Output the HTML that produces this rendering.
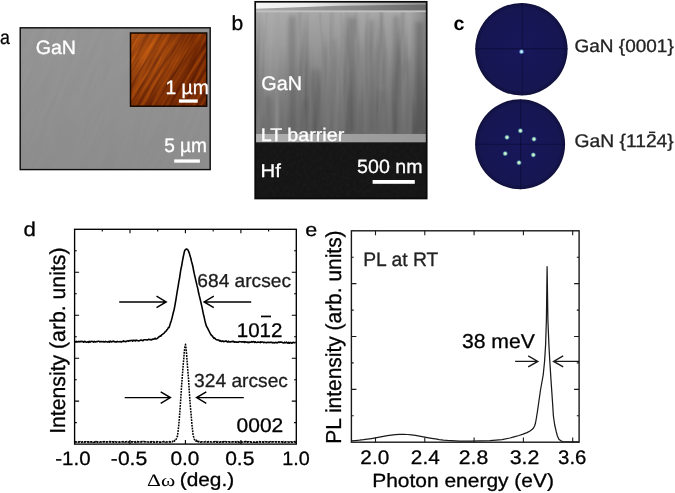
<!DOCTYPE html>
<html lang="en"><head><meta charset="utf-8"><title>Figure</title>
<style>
html,body{margin:0;padding:0;background:#fff;}
body{width:675px;height:493px;overflow:hidden;}
svg{display:block;font-family:"Liberation Sans", Arial, sans-serif;text-rendering:geometricPrecision;}
text{paint-order:stroke;stroke-width:0.3px;stroke-linejoin:round;}
#fig{filter:blur(0.45px);}
</style></head>
<body>
<svg width="675" height="493" viewBox="0 0 675 493">
<rect width="675" height="493" fill="#fff"/>
<g id="fig">
<defs>
<filter id="nA" color-interpolation-filters="sRGB" x="0" y="0" width="100%" height="100%"><feTurbulence type="fractalNoise" baseFrequency="0.025 0.22" numOctaves="2" seed="3"/><feColorMatrix type="matrix" values="0 0 0 0 0.5  0 0 0 0 0.5  0 0 0 0 0.5  0.9 0 0 0 -0.38"/></filter>
<filter id="nAFM" color-interpolation-filters="sRGB" x="0" y="0" width="100%" height="100%"><feTurbulence type="fractalNoise" baseFrequency="0.02 0.33" numOctaves="3" seed="11"/><feColorMatrix type="matrix" values="0.62 0 0 0 0.27  0.36 0 0 0 0.045  0.04 0 0 0 0.0  0 0 0 0 1"/></filter>
<filter id="nTEMd" color-interpolation-filters="sRGB" x="0" y="0" width="100%" height="100%"><feTurbulence type="fractalNoise" baseFrequency="0.085 0.007" numOctaves="3" seed="5"/><feColorMatrix type="matrix" values="0 0 0 0 0.2  0 0 0 0 0.2  0 0 0 0 0.2  -2.6 0 0 0 1.22"/></filter>
<filter id="nTEMl" color-interpolation-filters="sRGB" x="0" y="0" width="100%" height="100%"><feTurbulence type="fractalNoise" baseFrequency="0.085 0.007" numOctaves="3" seed="5"/><feColorMatrix type="matrix" values="0 0 0 0 0.85  0 0 0 0 0.85  0 0 0 0 0.85  2.2 0 0 0 -1.2"/></filter>
<filter id="nHf" color-interpolation-filters="sRGB" x="0" y="0" width="100%" height="100%"><feTurbulence type="fractalNoise" baseFrequency="0.3" numOctaves="2" seed="9"/><feColorMatrix type="matrix" values="0 0 0 0 1  0 0 0 0 1  0 0 0 0 1  0.3 0 0 0 -0.11"/></filter>
<linearGradient id="gTEM" x1="0" y1="14" x2="0" y2="134" gradientUnits="userSpaceOnUse">
<stop offset="0" stop-color="#a6a6a6"/><stop offset="0.25" stop-color="#989898"/><stop offset="0.5" stop-color="#858585"/><stop offset="0.75" stop-color="#777777"/><stop offset="1" stop-color="#6e6e6e"/></linearGradient>
<linearGradient id="gStk" x1="0" y1="14" x2="0" y2="134" gradientUnits="userSpaceOnUse">
<stop offset="0" stop-color="#fff" stop-opacity="0.45"/><stop offset="0.5" stop-color="#fff" stop-opacity="0.8"/><stop offset="1" stop-color="#fff" stop-opacity="1"/></linearGradient>
<mask id="mStk"><rect x="250" y="0" width="185" height="140" fill="url(#gStk)"/></mask>
<linearGradient id="gTop" x1="255" y1="0" x2="427" y2="0" gradientUnits="userSpaceOnUse">
<stop offset="0" stop-color="#f6f6f6"/><stop offset="0.3" stop-color="#ececec"/><stop offset="0.6" stop-color="#c4c4c4"/><stop offset="1" stop-color="#8e8e8e"/></linearGradient>
<linearGradient id="gTop2" x1="255" y1="0" x2="427" y2="0" gradientUnits="userSpaceOnUse">
<stop offset="0" stop-color="#ababab"/><stop offset="0.5" stop-color="#8c8c8c"/><stop offset="1" stop-color="#686868"/></linearGradient>
<radialGradient id="gAFMl" cx="0.1" cy="0.25" r="0.75"><stop offset="0" stop-color="#ffa040" stop-opacity="0.18"/><stop offset="1" stop-color="#300800" stop-opacity="0.3"/></radialGradient>
<radialGradient id="gP"><stop offset="0" stop-color="#17175a"/><stop offset="0.9" stop-color="#161652"/><stop offset="1" stop-color="#10103c"/></radialGradient>
<radialGradient id="gDot"><stop offset="0" stop-color="#e8ffff"/><stop offset="0.45" stop-color="#8fd0f0"/><stop offset="1" stop-color="#3050b0" stop-opacity="0"/></radialGradient>
<radialGradient id="gDot2"><stop offset="0" stop-color="#f0ffd8"/><stop offset="0.45" stop-color="#9fe0c0"/><stop offset="1" stop-color="#3060b0" stop-opacity="0"/></radialGradient>
<linearGradient id="gA" x1="0" y1="0" x2="0" y2="1"><stop offset="0" stop-color="#969696"/><stop offset="1" stop-color="#8d8d8d"/></linearGradient>
<clipPath id="cA"><rect x="20.2" y="27.8" width="190" height="141.8"/></clipPath>
<linearGradient id="gBh" x1="255" y1="0" x2="427" y2="0" gradientUnits="userSpaceOnUse"><stop offset="0" stop-color="#fff" stop-opacity="0.09"/><stop offset="0.25" stop-color="#fff" stop-opacity="0"/><stop offset="0.9" stop-color="#000" stop-opacity="0"/><stop offset="1" stop-color="#000" stop-opacity="0.2"/></linearGradient>
<linearGradient id="gLT" x1="255" y1="0" x2="427" y2="0" gradientUnits="userSpaceOnUse"><stop offset="0" stop-color="#b2b2b2"/><stop offset="0.5" stop-color="#a0a0a0"/><stop offset="1" stop-color="#979797"/></linearGradient>
<clipPath id="cAFM"><rect x="131" y="33.5" width="75.5" height="72.5"/></clipPath>
</defs>
<rect x="20.2" y="27.8" width="190" height="141.8" fill="url(#gA)"/>
<g clip-path="url(#cA)"><g transform="rotate(-68 115 99)"><rect x="-20" y="-40" width="270" height="280" filter="url(#nA)" opacity="0.4"/></g></g>
<rect x="20.2" y="27.8" width="190" height="141.8" fill="none" stroke="#0c0c0c" stroke-width="1.4"/>
<rect x="130.5" y="33" width="76.2" height="73.2" fill="#8c3a06"/>
<g clip-path="url(#cAFM)"><g transform="rotate(-60 168 70)"><rect x="100" y="0" width="140" height="140" filter="url(#nAFM)"/></g><rect x="130.5" y="33" width="76.2" height="73.2" fill="url(#gAFMl)"/></g>
<rect x="130.5" y="33" width="76.2" height="73.2" fill="none" stroke="#140800" stroke-width="1.5"/>
<text x="35.72" y="53.90" font-size="19.35" fill="#fff" stroke="#fff" textLength="40.27" lengthAdjust="spacingAndGlyphs" >GaN</text>
<text x="165.45" y="93.60" font-size="19.49" fill="#fff" stroke="#fff" textLength="43.32" lengthAdjust="spacingAndGlyphs" >1 µm</text>
<rect x="178.9" y="99.4" width="18.8" height="3.3" fill="#fff"/>
<text x="164.14" y="152.10" font-size="19.49" fill="#fff" stroke="#fff" textLength="42.82" lengthAdjust="spacingAndGlyphs" >5 µm</text>
<rect x="174.2" y="159.4" width="25.7" height="3.3" fill="#fff"/>
<text x="0.05" y="44.00" font-size="19.72" fill="#000" stroke="#000" textLength="9.88" lengthAdjust="spacingAndGlyphs" >a</text>
<rect x="255.2" y="1.8" width="171.5" height="196.7" fill="url(#gTEM)"/>
<g mask="url(#mStk)"><rect x="255.2" y="12" width="171.5" height="124" filter="url(#nTEMd)" opacity="0.5"/><rect x="255.2" y="12" width="171.5" height="124" filter="url(#nTEMl)" opacity="0.3"/></g>
<g style="filter:blur(2px)"><rect x="288.5" y="16" width="7" height="116" fill="#2a2a2a" opacity="0.22"/><rect x="348.0" y="18" width="8" height="114" fill="#2a2a2a" opacity="0.2"/><rect x="369.5" y="20" width="5" height="112" fill="#2a2a2a" opacity="0.16"/><rect x="393.0" y="16" width="6" height="116" fill="#2a2a2a" opacity="0.2"/><rect x="415.0" y="22" width="8" height="110" fill="#2a2a2a" opacity="0.22"/><rect x="265.0" y="96" width="6" height="36" fill="#2a2a2a" opacity="0.2"/><rect x="312.5" y="70" width="7" height="62" fill="#2a2a2a" opacity="0.16"/><rect x="331.5" y="40" width="5" height="92" fill="#2a2a2a" opacity="0.12"/><rect x="303.0" y="100" width="4" height="32" fill="#2a2a2a" opacity="0.15"/><rect x="380.5" y="90" width="5" height="42" fill="#2a2a2a" opacity="0.14"/><rect x="406.0" y="60" width="4" height="72" fill="#2a2a2a" opacity="0.12"/></g>
<rect x="255.2" y="1.8" width="171.5" height="9" fill="url(#gTop2)"/>
<path d="M255.2 1.8H426.7V4.6L340 5.7L255.2 8.8Z" fill="url(#gTop)"/>
<rect x="255.2" y="10.4" width="171.5" height="1.9" fill="#c6c6c6" opacity="0.85"/>
<rect x="255.2" y="12" width="171.5" height="122" fill="url(#gBh)"/>
<rect x="255.2" y="134" width="171.5" height="8.4" fill="url(#gLT)"/>
<rect x="255.2" y="142.4" width="171.5" height="56.099999999999994" fill="#151515"/>
<rect x="255.2" y="142.4" width="171.5" height="56.099999999999994" filter="url(#nHf)" opacity="0.16"/>
<rect x="255.2" y="1.8" width="171.5" height="196.7" fill="none" stroke="#0a0a0a" stroke-width="1.7"/>
<text x="261.31" y="90.30" font-size="19.64" fill="#fff" stroke="#fff" textLength="40.59" lengthAdjust="spacingAndGlyphs" >GaN</text>
<text x="260.67" y="141.10" font-size="18.34" fill="#fff" stroke="#fff" textLength="83.62" lengthAdjust="spacingAndGlyphs" >LT barrier</text>
<text x="260.62" y="176.50" font-size="18.69" fill="#fff" stroke="#fff" textLength="20.33" lengthAdjust="spacingAndGlyphs" >Hf</text>
<text x="357.12" y="173.40" font-size="19.21" fill="#fff" stroke="#fff" textLength="65.37" lengthAdjust="spacingAndGlyphs" >500 nm</text>
<rect x="372.6" y="180" width="42.2" height="3.8" fill="#fff"/>
<text x="231.53" y="29.80" font-size="20.41" fill="#000" stroke="#000" textLength="11.74" lengthAdjust="spacingAndGlyphs" >b</text>
<circle cx="521.4" cy="49.2" r="46.2" fill="url(#gP)"/>
<path d="M475.5 48.7H567.5M522.3 3V95.3" stroke="#0c0c38" stroke-width="0.8" fill="none"/>
<circle cx="521.5" cy="51.7" r="3" fill="url(#gDot)"/>
<circle cx="520.1" cy="144.3" r="45" fill="url(#gP)"/>
<path d="M475.5 144.3H565M520.6 99.4V189.3" stroke="#0c0c38" stroke-width="0.8" fill="none"/>
<circle cx="520.4" cy="130.8" r="3" fill="url(#gDot2)"/>
<circle cx="507" cy="137.3" r="3" fill="url(#gDot2)"/>
<circle cx="534" cy="139.1" r="3" fill="url(#gDot2)"/>
<circle cx="505.2" cy="153.6" r="3" fill="url(#gDot2)"/>
<circle cx="533.3" cy="154.9" r="3" fill="url(#gDot2)"/>
<circle cx="519" cy="162.7" r="3" fill="url(#gDot2)"/>
<text x="574.45" y="51.80" font-size="18.07" fill="#222" stroke="#222" textLength="99.32" lengthAdjust="spacingAndGlyphs" >GaN {0001}</text>
<text x="574.44" y="147.20" font-size="18.34" fill="#222" stroke="#222" textLength="99.35" lengthAdjust="spacingAndGlyphs" >GaN {1124}</text>
<rect x="649" y="131.6" width="6.2" height="1.5" fill="#222"/>
<text x="453.61" y="29.50" font-size="19.35" fill="#000" stroke="#000" textLength="10.95" lengthAdjust="spacingAndGlyphs" font-weight="bold" style="stroke-width:0">c</text>
<rect x="74.6" y="229.3" width="221.70000000000002" height="214.8" fill="none" stroke="#000" stroke-width="1.35"/>
<path d="M74.6 250.8h2.2M296.3 250.8h-2.2M74.6 272.3h4.5M296.3 272.3h-4.5M74.6 293.7h2.2M296.3 293.7h-2.2M74.6 315.2h4.5M296.3 315.2h-4.5M74.6 336.7h2.2M296.3 336.7h-2.2M74.6 358.2h4.5M296.3 358.2h-4.5M74.6 379.7h2.2M296.3 379.7h-2.2M74.6 401.1h4.5M296.3 401.1h-4.5M74.6 422.6h2.2M296.3 422.6h-2.2M130.0 229.3v4M130.0 444.1v-4M185.4 229.3v4M185.4 444.1v-4M240.9 229.3v4M240.9 444.1v-4M102.3 229.3v2.3M157.7 229.3v2.3M213.2 229.3v2.3M268.6 229.3v2.3" stroke="#000" stroke-width="1.1" fill="none"/>
<path d="M74.6 341.7 L75.3 341.5 L76.0 342.1 L76.7 341.4 L77.4 341.9 L78.1 341.7 L78.8 341.4 L79.5 341.9 L80.2 341.4 L80.9 341.8 L81.6 341.4 L82.3 341.4 L83.0 341.8 L83.7 342.2 L84.4 341.4 L85.1 341.5 L85.8 342.0 L86.5 342.3 L87.2 341.9 L87.9 341.7 L88.6 342.3 L89.3 341.3 L90.0 342.2 L90.7 341.6 L91.4 341.4 L92.1 341.4 L92.8 341.6 L93.5 342.1 L94.2 341.4 L94.9 341.9 L95.6 341.9 L96.3 341.6 L97.0 341.8 L97.7 341.3 L98.4 341.3 L99.1 341.4 L99.8 341.9 L100.5 341.6 L101.2 341.5 L101.9 341.8 L102.6 341.7 L103.3 341.5 L104.0 342.0 L104.7 341.9 L105.4 341.4 L106.1 341.8 L106.8 341.7 L107.5 342.1 L108.2 341.9 L108.9 341.4 L109.6 342.2 L110.3 341.2 L111.0 341.6 L111.7 341.9 L112.4 341.3 L113.1 341.6 L113.8 341.1 L114.5 341.8 L115.2 341.9 L115.9 341.7 L116.6 342.0 L117.3 341.4 L118.0 341.8 L118.7 341.7 L119.4 341.7 L120.1 341.5 L120.8 341.9 L121.5 342.0 L122.2 341.4 L122.9 341.6 L123.6 340.9 L124.3 341.5 L125.0 341.4 L125.7 341.8 L126.4 341.5 L127.1 340.9 L127.8 341.0 L128.5 341.2 L129.2 340.5 L129.9 340.9 L130.6 340.6 L131.3 340.5 L132.0 340.4 L132.7 341.1 L133.4 340.3 L134.1 340.4 L134.8 340.5 L135.5 341.0 L136.2 340.1 L136.9 340.5 L137.6 340.5 L138.3 340.9 L139.0 340.7 L139.7 340.8 L140.4 340.1 L141.1 340.2 L141.8 340.1 L142.5 340.6 L143.2 340.6 L143.9 339.7 L144.6 339.7 L145.3 339.7 L146.0 339.7 L146.7 339.9 L147.4 340.0 L148.1 339.6 L148.8 339.2 L149.5 339.6 L150.2 339.5 L150.9 339.6 L151.6 339.9 L152.3 339.4 L153.0 339.1 L153.7 339.1 L154.4 339.0 L155.1 338.2 L155.8 339.0 L156.5 338.7 L157.2 338.4 L157.9 337.9 L158.6 337.1 L159.3 336.7 L160.0 336.0 L160.7 336.2 L161.4 335.2 L162.1 334.7 L162.8 334.2 L163.5 333.5 L164.2 333.1 L164.9 332.1 L165.6 331.4 L166.3 330.8 L167.0 329.7 L167.7 329.0 L168.4 327.6 L169.1 327.5 L169.8 325.3 L170.5 322.9 L171.2 321.0 L171.9 318.4 L172.6 315.6 L173.3 312.5 L174.0 310.0 L174.7 306.7 L175.4 302.7 L176.1 298.7 L176.8 294.0 L177.5 289.8 L178.2 285.8 L178.9 281.4 L179.6 277.8 L180.3 272.9 L181.0 268.7 L181.7 265.6 L182.4 261.4 L183.1 257.5 L183.8 254.4 L184.5 251.2 L185.2 249.9 L185.9 249.3 L186.6 249.0 L187.3 249.4 L188.0 250.0 L188.7 251.6 L189.4 253.4 L190.1 256.1 L190.8 258.3 L191.5 261.4 L192.2 263.8 L192.9 266.7 L193.6 270.5 L194.3 273.9 L195.0 276.9 L195.7 279.9 L196.4 282.9 L197.1 285.9 L197.8 288.6 L198.5 292.3 L199.2 295.4 L199.9 298.1 L200.6 301.0 L201.3 304.2 L202.0 307.1 L202.7 310.7 L203.4 314.2 L204.1 316.8 L204.8 320.2 L205.5 323.0 L206.2 325.6 L206.9 327.0 L207.6 328.2 L208.3 329.6 L209.0 331.0 L209.7 332.4 L210.4 333.7 L211.1 334.9 L211.8 335.7 L212.5 336.2 L213.2 337.3 L213.9 338.3 L214.6 337.9 L215.3 338.9 L216.0 339.5 L216.7 339.7 L217.4 340.0 L218.1 340.0 L218.8 340.0 L219.5 340.9 L220.2 340.6 L220.9 341.2 L221.6 341.5 L222.3 340.9 L223.0 341.1 L223.7 341.8 L224.4 341.6 L225.1 341.1 L225.8 341.0 L226.5 341.1 L227.2 341.9 L227.9 341.9 L228.6 341.2 L229.3 341.9 L230.0 342.1 L230.7 341.8 L231.4 341.5 L232.1 341.7 L232.8 341.3 L233.5 341.2 L234.2 342.3 L234.9 342.0 L235.6 341.9 L236.3 342.3 L237.0 341.8 L237.7 342.3 L238.4 342.3 L239.1 341.6 L239.8 341.7 L240.5 341.8 L241.2 341.7 L241.9 342.1 L242.6 341.8 L243.3 342.0 L244.0 341.6 L244.7 342.5 L245.4 341.9 L246.1 342.0 L246.8 342.2 L247.5 342.5 L248.2 342.0 L248.9 342.6 L249.6 342.1 L250.3 342.2 L251.0 342.2 L251.7 341.6 L252.4 342.1 L253.1 341.8 L253.8 341.6 L254.5 342.5 L255.2 341.8 L255.9 342.2 L256.6 342.5 L257.3 342.3 L258.0 342.0 L258.7 342.3 L259.4 342.3 L260.1 342.6 L260.8 341.8 L261.5 342.3 L262.2 342.0 L262.9 342.0 L263.6 342.6 L264.3 342.3 L265.0 342.4 L265.7 342.6 L266.4 342.8 L267.1 342.3 L267.8 342.5 L268.5 342.4 L269.2 342.4 L269.9 342.6 L270.6 342.3 L271.3 342.4 L272.0 342.4 L272.7 342.9 L273.4 342.6 L274.1 342.8 L274.8 342.9 L275.5 342.2 L276.2 342.5 L276.9 342.9 L277.6 342.8 L278.3 342.1 L279.0 342.1 L279.7 342.4 L280.4 342.0 L281.1 342.2 L281.8 342.1 L282.5 342.7 L283.2 342.8 L283.9 343.0 L284.6 342.2 L285.3 342.8 L286.0 342.7 L286.7 342.2 L287.4 343.0 L288.1 343.1 L288.8 342.3 L289.5 343.1 L290.2 342.5 L290.9 342.6 L291.6 343.2 L292.3 343.0 L293.0 342.3 L293.7 342.6 L294.4 342.7 L295.1 342.5 L295.8 342.4" stroke="#000" stroke-width="1.6" fill="none" stroke-linejoin="round"/>
<path d="M74.60 441.9 L75.20 442.1 L75.80 441.8 L76.40 442.0 L77.00 442.0 L77.60 441.8 L78.20 441.9 L78.80 442.1 L79.40 442.0 L80.00 441.8 L80.60 442.2 L81.20 442.1 L81.80 442.2 L82.40 441.8 L83.00 441.9 L83.60 441.8 L84.20 442.1 L84.80 441.9 L85.40 441.8 L86.00 441.9 L86.60 442.2 L87.20 442.1 L87.80 441.9 L88.40 441.8 L89.00 442.2 L89.60 442.0 L90.20 442.1 L90.80 441.8 L91.40 441.8 L92.00 442.1 L92.60 441.9 L93.20 441.8 L93.80 442.2 L94.40 442.0 L95.00 442.1 L95.60 441.8 L96.20 442.2 L96.80 441.8 L97.40 442.2 L98.00 442.0 L98.60 441.9 L99.20 442.0 L99.80 442.2 L100.40 441.9 L101.00 441.8 L101.60 442.0 L102.20 441.8 L102.80 441.8 L103.40 441.8 L104.00 441.7 L104.60 441.8 L105.20 441.9 L105.80 441.9 L106.40 442.1 L107.00 441.9 L107.60 442.0 L108.20 441.8 L108.80 441.9 L109.40 441.7 L110.00 441.8 L110.60 441.7 L111.20 442.1 L111.80 442.0 L112.40 441.8 L113.00 441.9 L113.60 442.2 L114.20 441.8 L114.80 442.1 L115.40 441.9 L116.00 442.0 L116.60 442.1 L117.20 441.9 L117.80 442.0 L118.40 442.0 L119.00 442.2 L119.60 441.9 L120.20 442.1 L120.80 442.1 L121.40 442.0 L122.00 441.9 L122.60 441.9 L123.20 441.7 L123.80 441.8 L124.40 441.7 L125.00 442.1 L125.60 441.8 L126.20 441.8 L126.80 441.7 L127.40 442.1 L128.00 442.1 L128.60 442.0 L129.20 441.8 L129.80 441.8 L130.40 441.8 L131.00 441.9 L131.60 441.8 L132.20 441.9 L132.80 441.8 L133.40 442.2 L134.00 442.2 L134.60 442.0 L135.20 441.8 L135.80 442.2 L136.40 441.8 L137.00 441.9 L137.60 441.7 L138.20 441.9 L138.80 441.9 L139.40 441.9 L140.00 441.8 L140.60 441.9 L141.20 441.7 L141.80 441.8 L142.40 441.7 L143.00 441.9 L143.60 441.7 L144.20 441.7 L144.80 441.8 L145.40 441.8 L146.00 442.0 L146.60 441.9 L147.20 442.0 L147.80 442.0 L148.40 442.0 L149.00 442.1 L149.60 441.9 L150.20 441.8 L150.80 442.2 L151.40 441.7 L152.00 442.0 L152.60 442.0 L153.20 441.7 L153.80 442.1 L154.40 442.1 L155.00 442.0 L155.60 442.0 L156.20 442.1 L156.80 441.7 L157.40 441.9 L158.00 441.9 L158.60 442.1 L159.20 442.1 L159.80 442.1 L160.40 442.0 L161.00 442.1 L161.60 442.0 L162.20 442.0 L162.80 441.8 L163.40 441.7 L164.00 441.7 L164.60 441.8 L165.20 441.7 L165.80 442.1 L166.40 441.9 L167.00 442.0 L167.60 442.0 L168.20 442.0 L168.80 441.9 L169.40 441.7 L170.00 442.0 L170.60 441.9 L171.20 441.7 L171.80 441.7 L172.40 441.6 L173.00 441.3 L173.60 441.5M197.00 441.3 L197.60 441.3 L198.20 441.5 L198.80 441.8 L199.40 441.7 L200.00 442.0 L200.60 442.1 L201.20 441.9 L201.80 441.8 L202.40 441.9 L203.00 442.0 L203.60 442.0 L204.20 442.0 L204.80 442.0 L205.40 441.7 L206.00 441.7 L206.60 441.8 L207.20 442.0 L207.80 441.8 L208.40 441.9 L209.00 441.7 L209.60 441.7 L210.20 441.8 L210.80 442.0 L211.40 442.0 L212.00 442.0 L212.60 441.8 L213.20 441.9 L213.80 441.9 L214.40 441.9 L215.00 441.7 L215.60 442.1 L216.20 441.8 L216.80 442.2 L217.40 442.1 L218.00 441.7 L218.60 441.9 L219.20 442.1 L219.80 442.2 L220.40 441.9 L221.00 441.8 L221.60 441.8 L222.20 442.1 L222.80 441.8 L223.40 442.0 L224.00 441.7 L224.60 441.9 L225.20 442.2 L225.80 441.7 L226.40 442.1 L227.00 441.9 L227.60 442.1 L228.20 442.0 L228.80 441.8 L229.40 442.1 L230.00 441.9 L230.60 441.7 L231.20 441.7 L231.80 441.9 L232.40 441.9 L233.00 441.8 L233.60 441.8 L234.20 441.9 L234.80 441.8 L235.40 442.1 L236.00 441.7 L236.60 442.1 L237.20 442.1 L237.80 441.7 L238.40 442.2 L239.00 442.0 L239.60 442.1 L240.20 441.8 L240.80 441.9 L241.40 441.9 L242.00 442.2 L242.60 442.0 L243.20 441.9 L243.80 441.9 L244.40 441.8 L245.00 441.7 L245.60 441.7 L246.20 442.1 L246.80 441.8 L247.40 442.2 L248.00 441.8 L248.60 441.8 L249.20 442.0 L249.80 441.8 L250.40 441.9 L251.00 442.2 L251.60 442.1 L252.20 442.1 L252.80 442.0 L253.40 442.2 L254.00 442.2 L254.60 442.0 L255.20 442.1 L255.80 441.7 L256.40 442.1 L257.00 441.9 L257.60 442.1 L258.20 442.0 L258.80 441.9 L259.40 441.7 L260.00 442.2 L260.60 441.8 L261.20 441.9 L261.80 441.9 L262.40 441.9 L263.00 442.1 L263.60 442.2 L264.20 441.8 L264.80 442.0 L265.40 441.9 L266.00 442.0 L266.60 441.9 L267.20 441.8 L267.80 441.8 L268.40 441.8 L269.00 442.2 L269.60 442.0 L270.20 441.8 L270.80 442.2 L271.40 442.2 L272.00 441.9 L272.60 441.8 L273.20 441.8 L273.80 441.8 L274.40 441.9 L275.00 441.8 L275.60 441.8 L276.20 441.9 L276.80 442.0 L277.40 442.2 L278.00 442.1 L278.60 441.9 L279.20 441.9 L279.80 442.0 L280.40 441.9 L281.00 441.9 L281.60 441.8 L282.20 441.9 L282.80 442.2 L283.40 441.8 L284.00 442.0 L284.60 442.1 L285.20 442.2 L285.80 441.8 L286.40 441.9 L287.00 441.9 L287.60 441.9 L288.20 442.0 L288.80 442.2 L289.40 442.2 L290.00 442.2 L290.60 441.8 L291.20 441.8 L291.80 442.1 L292.40 442.2 L293.00 442.0 L293.60 442.0 L294.20 441.7 L294.80 441.9 L295.40 442.2 L296.00 442.2" stroke="#000" stroke-width="1.7" fill="none" stroke-dasharray="2.6 0.7"/>
<path d="M174.00 441.3 L174.25 441.3 L174.50 440.7 L174.75 440.5 L175.00 440.4 L175.25 440.5 L175.50 440.4 L175.75 440.3 L176.00 439.6 L176.25 439.0 L176.50 438.5 L176.75 437.7 L177.00 437.2 L177.25 436.3 L177.50 436.2 L177.75 433.7 L178.00 432.0 L178.25 429.7 L178.50 427.4 L178.75 425.2 L179.00 422.4 L179.25 419.5 L179.50 416.4 L179.75 412.9 L180.00 409.7 L180.25 406.3 L180.50 402.5 L180.75 398.7 L181.00 394.8 L181.25 391.3 L181.50 387.2 L181.75 383.6 L182.00 380.0 L182.25 377.2 L182.50 373.8 L182.75 370.9 L183.00 367.5 L183.25 364.2 L183.50 361.3 L183.75 358.8 L184.00 355.7 L184.25 352.5 L184.50 350.0 L184.75 348.1 L185.00 346.1 L185.25 345.0 L185.50 344.7 L185.75 345.9 L186.00 348.3 L186.25 350.3 L186.50 353.0 L186.75 356.5 L187.00 359.8 L187.25 363.2 L187.50 366.1 L187.75 369.6 L188.00 372.6 L188.25 375.6 L188.50 378.6 L188.75 382.7 L189.00 386.4 L189.25 390.8 L189.50 394.6 L189.75 398.4 L190.00 401.8 L190.25 404.5 L190.50 407.9 L190.75 410.6 L191.00 413.3 L191.25 416.2 L191.50 419.2 L191.75 422.2 L192.00 425.3 L192.25 427.1 L192.50 429.5 L192.75 431.7 L193.00 434.5 L193.25 435.9 L193.50 436.5 L193.75 437.2 L194.00 438.0 L194.25 439.0 L194.50 439.6 L194.75 440.2 L195.00 440.6 L195.25 440.7 L195.50 440.5 L195.75 440.5 L196.00 441.1 L196.25 441.1 L196.50 440.8 L196.75 441.4 L197.00 441.3" stroke="#000" stroke-width="1.55" fill="none" stroke-dasharray="1.8 1"/>
<path d="M119.2 301.9H166.2M156.5 296.2L166.2 301.9L156.5 307.59999999999997M251.2 301.9H204.1M213.79999999999998 296.2L204.1 301.9L213.79999999999998 307.59999999999997M124.7 397.6H170.4M160.70000000000002 391.90000000000003L170.4 397.6L160.70000000000002 403.3M243.8 397.6H196.6M206.29999999999998 391.90000000000003L196.6 397.6L206.29999999999998 403.3" stroke="#000" stroke-width="1.45" stroke-linejoin="miter" fill="none"/>
<text x="197.34" y="286.70" font-size="18.78" fill="#1c1c1c" stroke="#1c1c1c" textLength="93.67" lengthAdjust="spacingAndGlyphs" >684 arcsec</text>
<text x="194.08" y="387.20" font-size="18.92" fill="#1c1c1c" stroke="#1c1c1c" textLength="93.83" lengthAdjust="spacingAndGlyphs" >324 arcsec</text>
<text x="236.76" y="336.70" font-size="19.78" fill="#000" stroke="#000" textLength="45.71" lengthAdjust="spacingAndGlyphs" >1012</text>
<rect x="261" y="315.6" width="10" height="1.7" fill="#000"/>
<text x="236.56" y="432.10" font-size="19.78" fill="#000" stroke="#000" textLength="46.74" lengthAdjust="spacingAndGlyphs" >0002</text>
<text x="55.28" y="464.80" font-size="19.35" fill="#000" stroke="#000" textLength="35.30" lengthAdjust="spacingAndGlyphs" >-1.0</text>
<text x="110.85" y="464.80" font-size="19.35" fill="#000" stroke="#000" textLength="36.41" lengthAdjust="spacingAndGlyphs" >-0.5</text>
<text x="170.46" y="464.80" font-size="19.35" fill="#000" stroke="#000" textLength="29.02" lengthAdjust="spacingAndGlyphs" >0.0</text>
<text x="225.16" y="464.80" font-size="19.35" fill="#000" stroke="#000" textLength="29.29" lengthAdjust="spacingAndGlyphs" >0.5</text>
<text x="282.21" y="464.80" font-size="19.35" fill="#000" stroke="#000" textLength="27.53" lengthAdjust="spacingAndGlyphs" >1.0</text>
<text x="147.09" y="485.50" font-size="17.27" fill="#000" stroke="#000" textLength="28.15" lengthAdjust="spacingAndGlyphs" font-family='"Liberation Serif", "DejaVu Serif", serif' style='stroke-width:0' >Δω</text>
<text x="179.70" y="485.50" font-size="19.17" fill="#000" stroke="#000" textLength="54.51" lengthAdjust="spacingAndGlyphs" >(deg.)</text>
<text transform="translate(65.10 433.86) rotate(-90)" font-size="21.67" fill="#000" stroke="#000" textLength="186.32" lengthAdjust="spacingAndGlyphs">Intensity (arb. units)</text>
<text x="23.46" y="235.80" font-size="20.14" fill="#000" stroke="#000" textLength="12.36" lengthAdjust="spacingAndGlyphs" >d</text>
<rect x="351.4" y="230.8" width="227.70000000000005" height="211.39999999999998" fill="none" stroke="#1a1a1a" stroke-width="1.4"/>
<path d="M351.4 257.2h2.3M579.1 257.2h-2.3M351.4 283.6h5M579.1 283.6h-5M351.4 310.1h2.3M579.1 310.1h-2.3M351.4 336.5h5M579.1 336.5h-5M351.4 362.9h2.3M579.1 362.9h-2.3M351.4 389.4h5M579.1 389.4h-5M351.4 415.8h2.3M579.1 415.8h-2.3M375.5 230.8v4.5M375.5 442.2v-4.8M424.8 230.8v4.5M424.8 442.2v-4.8M474.1 230.8v4.5M474.1 442.2v-4.8M523.4 230.8v4.5M523.4 442.2v-4.8M572.7 230.8v4.5M572.7 442.2v-4.8" stroke="#1a1a1a" stroke-width="1.1" fill="none"/>
<path d="M351.4 440.8 L355.4 440.52 L359.4 440.16 L363.4 439.71 L367.4 439.16 L371.4 438.52 L375.4 437.81 L379.4 437.06 L383.4 436.31 L387.4 435.62 L391.4 435.03 L395.4 434.59 L399.4 434.35 L403.4 434.31 L407.4 434.5 L411.4 434.88 L415.4 435.43 L419.4 436.09 L423.4 436.83 L427.4 437.58 L431.4 438.31 L435.4 438.97 L439.4 439.55 L443.4 440.03 L447.4 440.42 L451.4 440.72 L455.4 440.94 L459.4 441.1 L463.4 441.21 L470 441.2 L490 440.6 L502 439.6 L510 438.0 L514 436.9 L519 435.5 L523 434.2 L527 432.6 L530 431 L532 429.6 L533.5 428 L534.6 426 L535.5 423 L536.4 418 L537.5 411 L540.5 390 L543.2 375 L544.6 361 L545.6 345 L546.4 320 L547.1 266.7 L547.9 320 L548.9 345 L549.8 361 L551 380 L552.5 402 L553.4 416 L554.6 424.5 L556.1 431.2 L557.4 436 L558.9 439.3 L560.8 440.8 L563 441.5 L579 441.8" stroke="#1a1a1a" stroke-width="1.25" fill="none" stroke-linejoin="round"/>
<path d="M515.1 361.4H537.8M528.1999999999999 355.9L537.8 361.4L528.1999999999999 366.9M579 361.4H553.6M563.2 355.9L553.6 361.4L563.2 366.9" stroke="#1a1a1a" stroke-width="1.4" fill="none"/>
<text x="461.90" y="347.90" font-size="20.07" fill="#000" stroke="#000" textLength="73.08" lengthAdjust="spacingAndGlyphs" >38 meV</text>
<text x="363.21" y="265.70" font-size="19.49" fill="#222" stroke="#222" textLength="75.04" lengthAdjust="spacingAndGlyphs" >PL at RT</text>
<text x="360.36" y="464.00" font-size="19.64" fill="#000" stroke="#000" textLength="28.82" lengthAdjust="spacingAndGlyphs" >2.0</text>
<text x="410.86" y="464.00" font-size="19.64" fill="#000" stroke="#000" textLength="28.81" lengthAdjust="spacingAndGlyphs" >2.4</text>
<text x="458.84" y="464.00" font-size="19.64" fill="#000" stroke="#000" textLength="29.46" lengthAdjust="spacingAndGlyphs" >2.8</text>
<text x="509.70" y="464.00" font-size="19.64" fill="#000" stroke="#000" textLength="29.78" lengthAdjust="spacingAndGlyphs" >3.2</text>
<text x="558.14" y="464.00" font-size="19.64" fill="#000" stroke="#000" textLength="28.33" lengthAdjust="spacingAndGlyphs" >3.6</text>
<text x="372.17" y="486.60" font-size="19.20" fill="#000" stroke="#000" textLength="181.83" lengthAdjust="spacingAndGlyphs" >Photon energy (eV)</text>
<text transform="translate(340.90 443.73) rotate(-90)" font-size="21.67" fill="#000" stroke="#000" textLength="213.33" lengthAdjust="spacingAndGlyphs">PL intensity (arb. units)</text>
<text x="305.29" y="235.50" font-size="18.79" fill="#000" stroke="#000" textLength="11.95" lengthAdjust="spacingAndGlyphs" >e</text>
</g>
</svg>
</body></html>
